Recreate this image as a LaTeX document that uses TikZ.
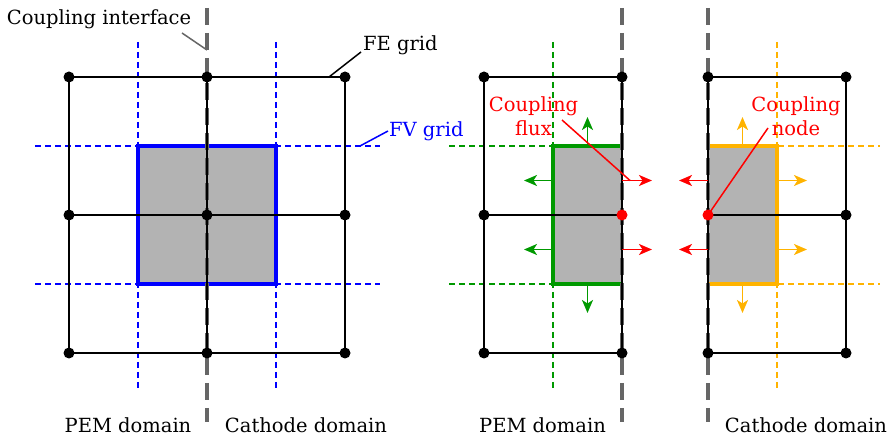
\documentclass[tikz,border=0pt]{standalone}
\usepackage{fontspec}
\setmainfont{DejaVu Serif}
\usetikzlibrary{arrows.meta}
\definecolor{ifgray}{HTML}{666666}
\definecolor{cellgray}{HTML}{B3B3B3}
\definecolor{fvgreen}{HTML}{009900}
\definecolor{fvorange}{HTML}{FFB300}
\begin{document}
\begin{tikzpicture}[x=1pt,y=-1pt,
  fegrid/.style={black, line width=1.6pt},
  fvdash/.style={line width=1.4pt, dash pattern=on 6pt off 4pt},
  iface/.style={draw=ifgray, line width=4pt, dash pattern=on 17pt off 8pt},
  fedot/.style={circle, fill=black, inner sep=0pt, minimum size=11pt},
  reddot/.style={circle, fill=red, inner sep=0pt, minimum size=11pt},
  fluxarrow/.style={line width=1.9pt, -{Stealth[length=13pt,width=11pt,inset=3.5pt]}},
  cellbox/.style={line width=4pt},
  lbl/.style={font=\fontsize{19.5}{24}\selectfont, inner sep=0pt},
  leader/.style={line width=1.5pt}]
\useasboundingbox (0,0) rectangle (889,435);

% ================= LEFT PANEL =================
\draw[fvdash, blue] (138,42) -- (138,388);
\draw[fvdash, blue] (276,42) -- (276,388);
\draw[fvdash, blue] (35,146) -- (380,146);
\draw[fvdash, blue] (35,284) -- (380,284);
\fill[cellgray] (138,146) rectangle (276,284);
\draw[cellbox, blue] (138,146) rectangle (276,284);
\coordinate (ifLtop) at (207,8);
\coordinate (ifLbot) at (207,422);
\draw[iface] (ifLtop) -- (ifLbot);
\foreach \x in {69,207,345} \draw[fegrid] (\x,77) -- (\x,353);
\foreach \y in {77,215,353} \draw[fegrid] (69,\y) -- (345,\y);
\foreach \x/\n in {69/a,207/b,345/c}
  \foreach \y/\m in {77/1,215/2,353/3}
    \node[fedot] (L\n\m) at (\x,\y) {};

% ================= MIDDLE PANEL (PEM) =================
\draw[fvdash, fvgreen] (553,42) -- (553,388);
\draw[fvdash, fvgreen] (449,146) -- (622,146);
\draw[fvdash, fvgreen] (449,284) -- (622,284);
\fill[cellgray] (553,146) rectangle (622,284);
\draw[cellbox, fvgreen] (622,146) -- (553,146) -- (553,284) -- (622,284);
\coordinate (ifMtop) at (622,8);
\coordinate (ifMbot) at (622,422);
\draw[iface] (ifMtop) -- (ifMbot);
\foreach \x in {484,622} \draw[fegrid] (\x,77) -- (\x,353);
\foreach \y in {77,215,353} \draw[fegrid] (484,\y) -- (622,\y);
\node[fedot] (Ma1) at (484,77) {};
\node[fedot] (Mb1) at (622,77) {};
\node[fedot] (Ma2) at (484,215) {};
\node[fedot] (Ma3) at (484,353) {};
\node[fedot] (Mb3) at (622,353) {};
\node[reddot] (Mb2) at (622,215) {};
\coordinate (gUp0) at (587.5,146);   \coordinate (gUp1) at (587.5,117);
\coordinate (gDn0) at (587.5,284);   \coordinate (gDn1) at (587.5,313);
\coordinate (gL10) at (553,180.5);   \coordinate (gL11) at (524,180.5);
\coordinate (gL20) at (553,249.5);   \coordinate (gL21) at (524,249.5);
\coordinate (rR10) at (622,180.5);   \coordinate (rR11) at (652,180.5);
\coordinate (rR20) at (622,249.5);   \coordinate (rR21) at (652,249.5);
\draw[fluxarrow, fvgreen] (gUp0) -- (gUp1);
\draw[fluxarrow, fvgreen] (gDn0) -- (gDn1);
\draw[fluxarrow, fvgreen] (gL10) -- (gL11);
\draw[fluxarrow, fvgreen] (gL20) -- (gL21);
\draw[fluxarrow, red] (rR10) -- (rR11);
\draw[fluxarrow, red] (rR20) -- (rR21);

% ================= RIGHT PANEL (Cathode) =================
\draw[fvdash, fvorange] (777,42) -- (777,388);
\draw[fvdash, fvorange] (708,146) -- (880,146);
\draw[fvdash, fvorange] (708,284) -- (880,284);
\fill[cellgray] (708,146) rectangle (777,284);
\draw[cellbox, fvorange] (708,146) -- (777,146) -- (777,284) -- (708,284);
\coordinate (ifRtop) at (708,8);
\coordinate (ifRbot) at (708,422);
\draw[iface] (ifRtop) -- (ifRbot);
\foreach \x in {708,846} \draw[fegrid] (\x,77) -- (\x,353);
\foreach \y in {77,215,353} \draw[fegrid] (708,\y) -- (846,\y);
\node[fedot] (Ra1) at (708,77) {};
\node[fedot] (Rb1) at (846,77) {};
\node[fedot] (Rb2) at (846,215) {};
\node[fedot] (Ra3) at (708,353) {};
\node[fedot] (Rb3) at (846,353) {};
\node[reddot] (Ra2) at (708,215) {};
\coordinate (oUp0) at (742.5,146);   \coordinate (oUp1) at (742.5,117);
\coordinate (oDn0) at (742.5,284);   \coordinate (oDn1) at (742.5,313);
\coordinate (oR10) at (777,180.5);   \coordinate (oR11) at (807,180.5);
\coordinate (oR20) at (777,249.5);   \coordinate (oR21) at (807,249.5);
\coordinate (rL10) at (708,180.5);   \coordinate (rL11) at (679,180.5);
\coordinate (rL20) at (708,249.5);   \coordinate (rL21) at (679,249.5);
\draw[fluxarrow, fvorange] (oUp0) -- (oUp1);
\draw[fluxarrow, fvorange] (oDn0) -- (oDn1);
\draw[fluxarrow, fvorange] (oR10) -- (oR11);
\draw[fluxarrow, fvorange] (oR20) -- (oR21);
\draw[fluxarrow, red] (rL10) -- (rL11);
\draw[fluxarrow, red] (rL20) -- (rL21);

% ================= LABELS =================
\node[lbl, anchor=base] (tIface) at (99,25) {Coupling interface};
\coordinate (tIfaceEnd) at (182,33);
\coordinate (tIfaceTip) at (207,50);
\draw[leader, ifgray] (tIfaceEnd) -- (tIfaceTip);

\node[lbl, anchor=base west] (tFE) at (363,51) {FE grid};
\coordinate (tFEEnd) at (361,52);
\coordinate (tFETip) at (329,77);
\draw[leader, black] (tFEEnd) -- (tFETip);

\node[lbl, anchor=base west, text=blue] (tFV) at (389,137) {FV grid};
\coordinate (tFVEnd) at (388,131);
\coordinate (tFVTip) at (360,146);
\draw[leader, blue] (tFVEnd) -- (tFVTip);

\node[lbl, text=red, align=center] (tFlux) at (533.5,116) {Coupling\\flux};
\coordinate (tFluxEnd) at (562,120);
\coordinate (tFluxTip) at (630,180.5);
\draw[leader, red] (tFluxEnd) -- (tFluxTip);

\node[lbl, text=red, align=center] (tNode) at (796,116) {Coupling\\node};
\coordinate (tNodeEnd) at (768,128);
\draw[leader, red] (tNodeEnd) -- (Ra2.center);

\node[lbl, anchor=base] (tPEM1) at (128,432) {PEM domain};
\node[lbl, anchor=base] (tCat1) at (306,432) {Cathode domain};
\node[lbl, anchor=base] (tPEM2) at (542.5,432) {PEM domain};
\node[lbl, anchor=base] (tCat2) at (806,432) {Cathode domain};
\end{tikzpicture}
\end{document}
